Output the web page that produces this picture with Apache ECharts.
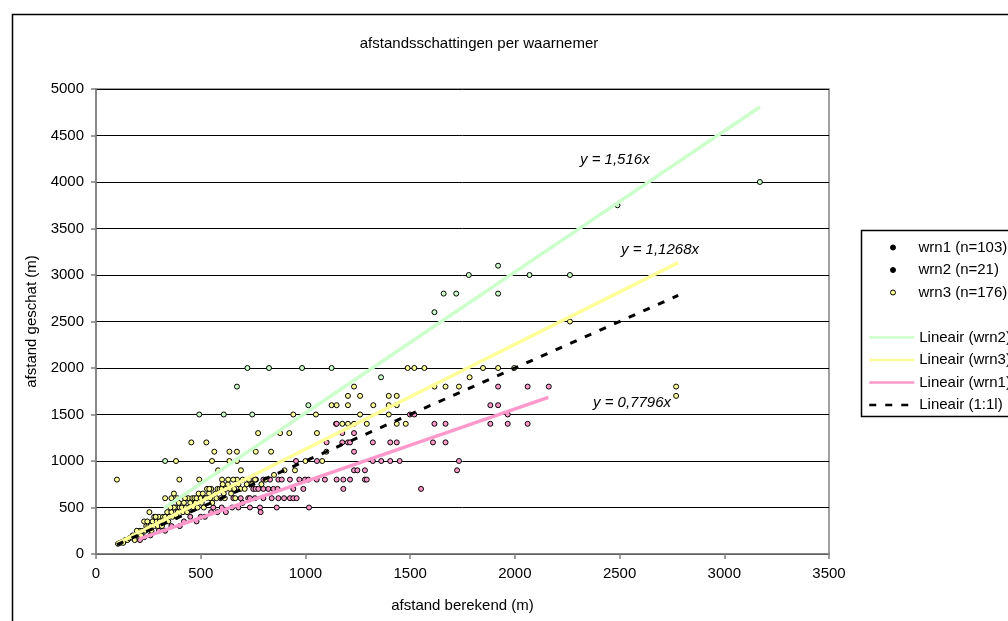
<!DOCTYPE html>
<html>
<head>
<meta charset="utf-8">
<script src="https://cdn.jsdelivr.net/npm/echarts@6/dist/echarts.min.js"></script>
<style>
html,body{margin:0;padding:0;background:#fff;}
#chart{width:1008px;height:621px;}
</style>
</head>
<body>
<div id="chart"></div>
<script>
// ---- data ----
const seriesNames = ['wrn1 (n=103)', 'wrn2 (n=21)', 'wrn3 (n=176)'];
const trendNames = ['Lineair (wrn2)', 'Lineair (wrn3)', 'Lineair (wrn1)', 'Lineair (1:1l)'];
const trendSlopes = [1.516, 1.1268, 0.7796, 1.0];
const trendXRanges = [[325, 3170], [100, 2780], [205, 2160], [100, 2780]];
const trendLabels = ['y = 1,516x', 'y = 1,1268x', 'y = 0,7796x'];
const xTicks = [0, 3500, 500];
const yTicks = [0, 5000, 500];

const wrn1 = [
[210,150],[230,180],[260,200],[300,250],[330,250],[360,300],[400,300],[420,350],[450,400],[480,350],
[500,400],[520,400],[550,450],[560,500],[580,450],[600,500],[620,450],[650,500],[680,500],[700,550],
[735,500],[783,500],[786,450],[863,500],[1017,500],
[656,600],[691,600],[727,600],[735,600],[759,600],[799,600],[839,600],[871,600],[898,600],[926,600],[942,600],[958,600],
[751,700],[762,700],[775,700],[799,700],[823,700],[847,700],[867,700],[942,700],[990,700],
[739,800],[764,800],[799,800],[831,800],[871,800],[887,800],[926,800],[971,800],[998,800],[1014,800],[1054,800],[1093,800],
[1149,800],[1181,800],[1213,800],[1284,800],[1293,800],[1181,700],[1552,700],
[1232,900],[1248,900],[1284,900],[1724,900],
[1322,1000],[1362,1000],[1405,1000],[1450,1000],[1733,1000],[955,1000],[1055,1000],
[1101,1200],[1176,1200],[1203,1200],[1213,1200],[1322,1200],[1405,1200],[1436,1200],[1609,1200],[1669,1200],
[1616,1400],[1669,1400],[1883,1400],[1966,1400],[2061,1400],
[1883,1600],[1920,1600],[1966,1500],[2162,1800],[2061,1800],[1920,1800],[1232,1100],
[1499,1500],[1520,1500],[1176,1300],[1232,1300],[1146,1400],[1149,1400]
];
const wrn2 = [
[330,1000],[493,1500],[610,1500],[673,1800],[723,2000],[746,1500],[826,2000],[984,2000],[1014,1600],[1125,2000],
[1361,1900],[1616,2600],[1660,2800],[1720,2800],[1780,3000],[1920,3100],[1920,2800],[2070,3000],[2263,3000],[2490,3750],
[3170,4000]
];
const wrn3 = [
[100,800],[105,110],[115,120],[125,130],[140,150],[150,150],[160,170],[175,200],[190,200],[200,200],
[210,250],[225,250],[240,300],[250,300],[260,300],[270,350],[280,300],[290,350],[300,400],[305,350],
[320,400],[330,400],[340,450],[350,400],[360,450],[370,500],[380,500],[390,450],[400,500],[410,500],
[420,550],[430,500],[440,600],[450,550],[460,600],[470,600],[480,600],[490,650],[500,600],[510,650],
[520,600],[530,700],[540,650],[550,700],[560,600],[570,650],[580,700],[590,700],[600,700],[610,650],
[620,700],[630,750],[640,700],[660,700],[680,750],[700,800],
[230,350],[255,450],[278,400],[330,600],[360,600],[372,650],[388,600],[372,500],
[382,1000],[398,800],[455,1200],[493,800],[527,1200],[541,700],[554,1000],[565,1100],[583,900],[602,800],
[631,800],[637,1000],[637,1100],[673,800],[673,1000],[673,1100],[692,900],[763,1100],[774,1300],[836,1100],
[879,1300],[923,1300],[942,1500],[1050,1500],[1055,1300],
[1125,1600],[1149,1600],[1203,1600],[1324,1600],[1398,1600],[1436,1600],
[1203,1700],[1261,1700],[1398,1700],[1436,1700],
[1232,1800],[1616,1800],[1669,1800],[1733,1800],[1784,1900],
[1488,2000],[1520,2000],[1568,2000],[1848,2000],[1920,2000],[1997,2000],
[1261,1500],[1398,1500],[1176,1400],[1203,1400],[1232,1400],[1293,1400],[1436,1400],[1479,1400],
[2263,2500],[2770,1800],[2770,1700],
[130,120],[170,180],[185,150],[195,250],[215,200],[235,250],[245,350],[265,250],[285,400],[295,300],
[315,300],[325,350],[345,350],[355,500],[365,400],[385,400],[395,550],[415,450],[425,600],[435,450],
[445,500],[465,500],[475,550],[485,500],[505,550],[515,500],[525,600],[545,600],[555,550],[575,600],
[595,600],[605,750],[615,600],[645,650],[655,800],[665,600],[690,700],[710,700],[720,750],[730,800],
[745,750],[760,800],[790,750],[810,800],[850,850],[900,900],[950,900],[1000,1000],[1080,1000],[1100,1100]
];

// ---- chart ----
const FONT = 'Liberation Sans';
const FS = 15;
const scatterData = [wrn1, wrn2, wrn3];
const scatterFill = ['#ff99cc', '#ccffcc', '#ffff99'];
const trendColors = ['#ccffcc', '#ffff99', '#ff99cc', '#000000'];

const series = [];
scatterData.forEach((d, i) => {
  series.push({
    name: seriesNames[i], type: 'scatter', data: d,
    symbol: 'circle', symbolSize: 5,
    itemStyle: {color: scatterFill[i], borderColor: '#000', borderWidth: 1, opacity: 1},
    z: 3, emphasis: {disabled: true}
  });
});
trendNames.forEach((n, i) => {
  const r = trendXRanges[i];
  series.push({
    name: n, type: 'line',
    data: r.map(x => [x, x * trendSlopes[i]]),
    symbol: 'none',
    lineStyle: {color: trendColors[i], width: i === 3 ? 3 : 3.5, type: i === 3 ? [7, 9] : 'solid', cap: 'butt'},
    itemStyle: {color: trendColors[i]},
    z: 4, silent: true, animation: false
  });
});

const scatterLegendData = seriesNames.map((n, i) => ({
  name: n,
  itemStyle: {color: i === 2 ? '#ffff99' : '#000', borderColor: '#000', borderWidth: 1}
}));

const chart = echarts.init(document.getElementById('chart'), null, {renderer: 'canvas'});
chart.setOption({
  animation: false,
  backgroundColor: '#ffffff',
  textStyle: {fontFamily: FONT},
  title: {
    text: 'afstandsschattingen per waarnemer', left: 474, top: 31, textAlign: 'center',
    textStyle: {fontFamily: FONT, fontSize: FS, fontWeight: 'normal', color: '#000'}
  },
  grid: {left: 96, top: 89, right: 179, bottom: 67, show: true, borderColor: '#808080', borderWidth: 1.5, backgroundColor: 'transparent'},
  xAxis: {
    type: 'value', min: xTicks[0], max: xTicks[1], interval: xTicks[2],
    name: 'afstand berekend (m)', nameLocation: 'middle', nameGap: 44,
    nameTextStyle: {fontFamily: FONT, fontSize: FS, color: '#000'},
    axisLine: {lineStyle: {color: '#808080', width: 1.5}},
    axisTick: {show: true, length: 5, lineStyle: {color: '#808080', width: 1.5}},
    axisLabel: {fontFamily: FONT, fontSize: FS, color: '#000', margin: 12, formatter: v => String(v)},
    splitLine: {show: false}
  },
  yAxis: {
    type: 'value', min: yTicks[0], max: yTicks[1], interval: yTicks[2],
    name: 'afstand geschat (m)', nameLocation: 'middle', nameGap: 53,
    nameTextStyle: {fontFamily: FONT, fontSize: FS, color: '#000'},
    axisLine: {show: true, lineStyle: {color: '#808080', width: 1.5}},
    axisTick: {show: true, length: 5, lineStyle: {color: '#808080', width: 1.5}},
    axisLabel: {fontFamily: FONT, fontSize: FS, color: '#000', margin: 12, formatter: v => String(v)},
    splitLine: {show: true, lineStyle: {color: '#000', width: 1}}
  },
  legend: [
    {
      data: scatterLegendData, orient: 'vertical', left: 885, top: 234,
      itemWidth: 5, itemHeight: 5, itemGap: 5.5, icon: 'circle', selectedMode: false,
      textStyle: {fontFamily: FONT, fontSize: FS, color: '#000', lineHeight: 17, padding: [0, 0, 0, 18]}
    },
    {
      data: trendNames, orient: 'vertical', left: 863, top: 324,
      itemWidth: 45, itemHeight: 10, itemGap: 5.5, selectedMode: false,
      itemStyle: {opacity: 0},
      lineStyle: {width: 2.5},
      textStyle: {fontFamily: FONT, fontSize: FS, color: '#000', lineHeight: 17, padding: [0, 0, 0, 0]}
    }
  ],
  graphic: [
    {type: 'rect', left: 10, top: 12, shape: {x: 0, y: 0, width: 1100, height: 700}, style: {fill: 'none', stroke: '#000', lineWidth: 1.5}, silent: true},
    {type: 'rect', left: 859, top: 228, shape: {x: 0, y: 0, width: 200, height: 186}, style: {fill: 'none', stroke: '#000', lineWidth: 1.5}, silent: true},
    {type: 'text', left: 580, top: 152, style: {text: trendLabels[0], font: 'italic 15px "Liberation Sans"', fill: '#000'}, silent: true},
    {type: 'text', left: 621, top: 242, style: {text: trendLabels[1], font: 'italic 15px "Liberation Sans"', fill: '#000'}, silent: true},
    {type: 'text', left: 593, top: 395, style: {text: trendLabels[2], font: 'italic 15px "Liberation Sans"', fill: '#000'}, silent: true}
  ],
  series: series
});
</script>
</body>
</html>
